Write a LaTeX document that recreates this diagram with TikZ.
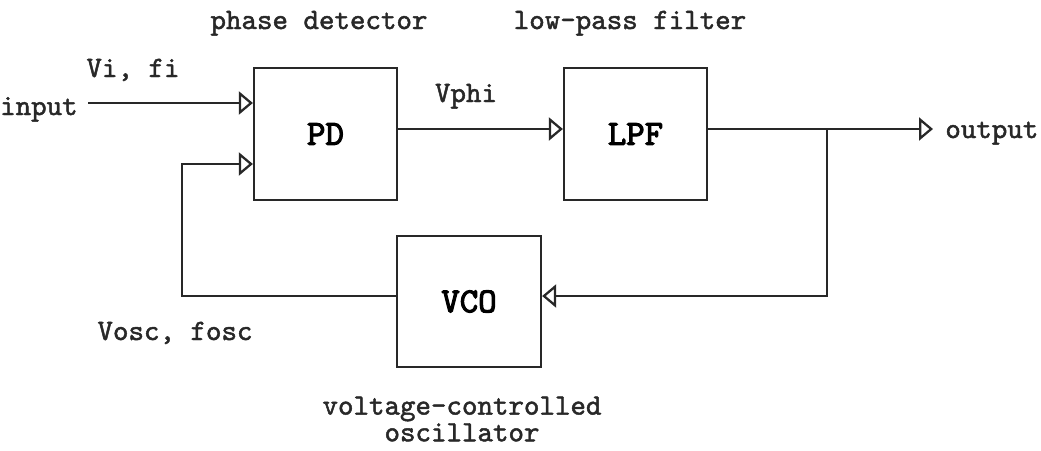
\documentclass[tikz,border=0pt]{standalone}
\usepackage{fontspec}
\newfontfamily\lblfont{lmmono10-regular.otf}[FakeBold=1.6]
\newfontfamily\boxfont{lmmono10-regular.otf}[FakeBold=3]
\usetikzlibrary{arrows.meta, positioning, calc}
\definecolor{mydark}{RGB}{40,40,40}
\tikzset{
  block/.style={rectangle, draw=mydark, minimum width=2.86cm,
    minimum height=2.64cm, inner sep=0pt, line width=1.3pt,
    font=\boxfont\fontsize{20}{22}\selectfont},
  lbl/.style={font=\lblfont\fontsize{16.8}{15.2}\selectfont,
    inner sep=0pt, align=center, text=mydark},
  arrow/.style={-{Triangle[open, length=0.28cm, width=0.46cm]}, line width=1.3pt, color=mydark},
  line/.style={line width=1.3pt, color=mydark}
}
\begin{document}
\begin{tikzpicture}[x=0.02cm, y=-0.02cm]
  \useasboundingbox (0,0) rectangle (1041,450);
  % blocks
  \node[block] (pd) at (325.5,134) {PD};
  \node[block] (lpf) at (635.5,134) {LPF};
  \node[block, minimum width=2.88cm, minimum height=2.62cm] (vco) at (469,301.5) {VCO};

  % labels
  \node[lbl, anchor=base] (pdname) at (319,29) {phase detector};
  \node[lbl, anchor=base] (lpfname) at (630,29) {low-pass filter};
  \node[lbl] (vconame) at (462,419) {voltage-controlled\\oscillator};
  \node[lbl, anchor=base east] (inlbl) at (78,115) {input};
  \node[lbl, anchor=base] (vifi) at (133,77) {Vi, fi};
  \node[lbl, anchor=base] (vphi) at (466,102) {Vphi};
  \node[lbl, anchor=base west] (outlbl) at (945,138) {output};
  \node[lbl, anchor=base] (vosc) at (175,340) {Vosc, fosc};

  % connections
  \coordinate (inpt) at (88,103);
  \coordinate (fbk) at (182,164);
  \coordinate (vcoout) at ([yshift=0.11cm]vco.west);
  \coordinate (vcoin) at ([yshift=0.11cm]vco.east);
  \coordinate (lpfout) at ([yshift=0.1cm]lpf.east);
  \coordinate (br) at ($(lpfout)+(119,0)$);
  \draw[arrow] (inpt) -- (inpt -| pd.west);
  \draw[arrow] ([yshift=0.1cm]pd.east) -- ([yshift=0.1cm]lpf.west);
  \draw[arrow] (lpfout) -- ($(lpfout -| outlbl.west)+(-12,0)$);
  \draw[arrow] (br) |- (vcoin);
  \draw[arrow] (vcoout) -| (fbk) -- (fbk -| pd.west);
\end{tikzpicture}
\end{document}
